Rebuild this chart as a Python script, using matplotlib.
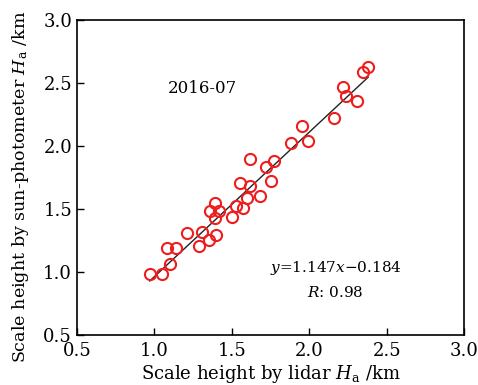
import matplotlib
matplotlib.use("Agg")
import matplotlib.pyplot as plt
import numpy as np

lidar = [0.97, 1.05, 1.08, 1.14, 1.10, 1.21, 1.31, 1.29, 1.35, 1.40, 1.36, 1.39, 1.42,
         1.39, 1.50, 1.53, 1.57, 1.60, 1.55, 1.62, 1.62, 1.68, 1.75, 1.72, 1.77, 1.88,
         1.99, 1.95, 2.16, 2.22, 2.24, 2.31, 2.35, 2.38]
photometer = [0.98, 0.98, 1.19, 1.19, 1.06, 1.31, 1.32, 1.21, 1.25, 1.29, 1.48, 1.43, 1.48,
              1.55, 1.44, 1.52, 1.51, 1.59, 1.71, 1.68, 1.90, 1.60, 1.72, 1.83, 1.88, 2.02,
              2.04, 2.16, 2.22, 2.47, 2.40, 2.36, 2.59, 2.63]
slope, intercept = 1.147, -0.184
ticks = [0.5, 1.0, 1.5, 2.0, 2.5, 3.0]
tick_labels = ["0.5", "1.0", "1.5", "2.0", "2.5", "3.0"]

plt.rcParams['font.family'] = ['DejaVu Serif']
plt.rcParams['mathtext.fontset'] = 'dejavuserif'

fig = plt.figure(figsize=(4.78, 3.85), dpi=100)
ax = fig.add_axes([0.161, 0.130, 0.810, 0.818])

ax.plot(lidar, photometer, 'o', mfc='none', mec='#ee1c1c', mew=1.5, ms=8, zorder=3)
xl = np.array([min(lidar), max(lidar)])
ax.plot(xl, slope * xl + intercept, color='#222222', lw=1.0, zorder=2)

ax.set_xlim(0.5, 3.0)
ax.set_ylim(0.5, 3.0)
ax.set_xticks(ticks)
ax.set_xticklabels(tick_labels)
ax.set_yticks(ticks)
ax.set_yticklabels(tick_labels)
ax.tick_params(direction='in', length=5, width=1, labelsize=13, top=False, right=False)
ax.tick_params(axis='x', pad=5)
for s in ax.spines.values():
    s.set_linewidth(1.2)

ax.set_xlabel(r"Scale height by lidar $H_\mathrm{a}$ /km", fontsize=13, labelpad=2)
ax.set_ylabel(r"Scale height by sun-photometer $H_\mathrm{a}$ /km", fontsize=12.6)
ax.yaxis.set_label_coords(-0.118, 0.47)

ax.text(1.31, 2.46, "2016-07", ha='center', va='center', fontsize=12)
ax.text(2.17, 1.03, r"$y$=1.147$x$$-$0.184", ha='center', va='center', fontsize=11)
ax.text(2.17, 0.84, r"$R$: 0.98", ha='center', va='center', fontsize=11)

fig.savefig("out.png", dpi=100)
